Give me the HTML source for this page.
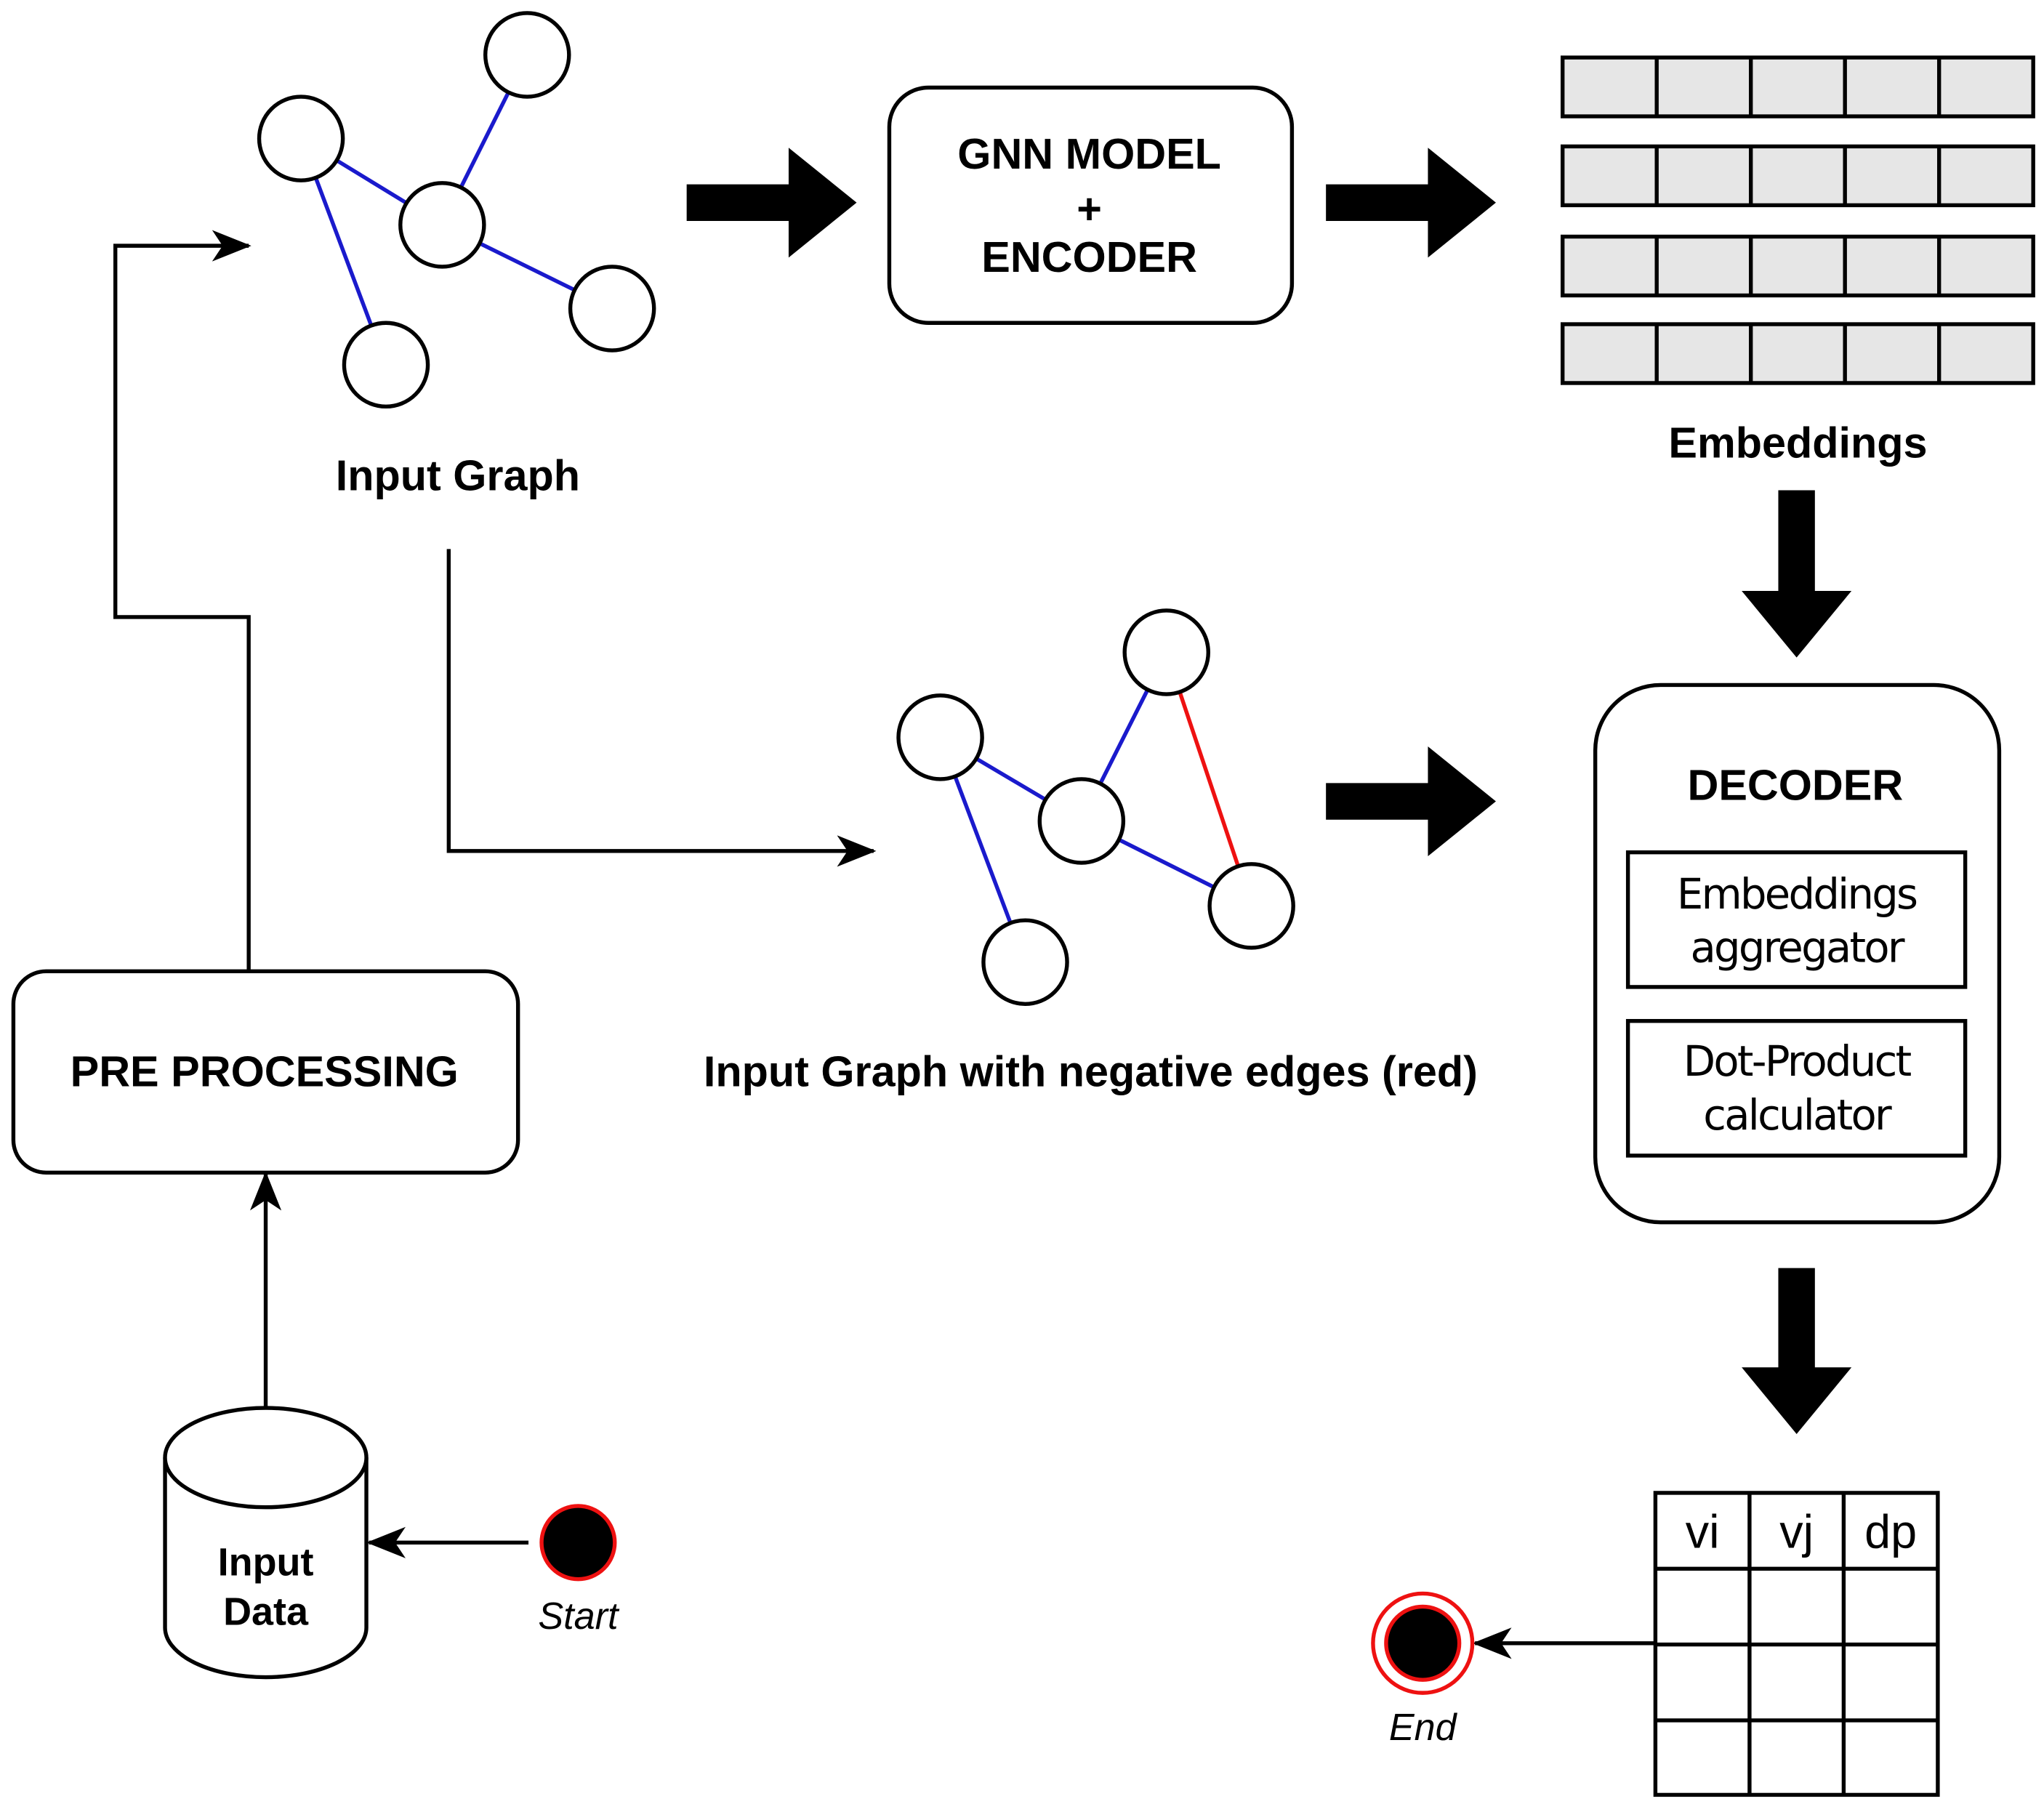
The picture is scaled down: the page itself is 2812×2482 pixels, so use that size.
<!DOCTYPE html>
<html><head><meta charset="utf-8"><style>html,body{margin:0;padding:0;background:#fff}svg{display:block}</style></head>
<body>
<svg width="2812" height="2482" viewBox="0 0 1563 1380" xmlns="http://www.w3.org/2000/svg" font-family="'Liberation Sans', 'DejaVu Sans', sans-serif">
<rect width="1563" height="1380" fill="#fff"/>
<defs>
<marker id="a" markerWidth="30" markerHeight="24" refX="28" refY="12" orient="auto" markerUnits="userSpaceOnUse" viewBox="0 0 30 24"><path d="M0,0 L30,12 L0,24 L8,12 Z" fill="#000"/></marker>
</defs>
<g stroke="#000" stroke-width="3" fill="none">
<g stroke="#1a1acc" stroke-width="3">
<line x1="230" y1="106" x2="338" y2="172"/><line x1="338" y1="172" x2="403" y2="42"/>
<line x1="230" y1="106" x2="295" y2="279"/><line x1="338" y1="172" x2="468" y2="236"/>
</g>
<g fill="#fff">
<circle cx="230" cy="106" r="32"/><circle cx="403" cy="42" r="32"/><circle cx="338" cy="172" r="32"/><circle cx="468" cy="236" r="32"/><circle cx="295" cy="279" r="32"/>
</g>
<g stroke="#1a1acc">
<line x1="719" y1="564" x2="827" y2="628"/><line x1="827" y1="628" x2="892" y2="499"/>
<line x1="719" y1="564" x2="784" y2="736"/><line x1="827" y1="628" x2="957" y2="693"/>
</g>
<line x1="892" y1="499" x2="957" y2="693" stroke="#ee1111"/>
<g fill="#fff">
<circle cx="719" cy="564" r="32"/><circle cx="892" cy="499" r="32"/><circle cx="827" cy="628" r="32"/><circle cx="957" cy="693" r="32"/><circle cx="784" cy="736" r="32"/>
</g>
<rect x="680" y="67" width="308" height="180" rx="30" fill="#fff"/>
<rect x="10" y="743" width="386" height="154" rx="25" fill="#fff"/>
<rect x="1220" y="524" width="309" height="411" rx="50" fill="#fff"/>
<rect x="1245" y="652" width="258" height="103"/>
<rect x="1245" y="781" width="258" height="103"/>
<g fill="#e6e6e6">
<rect x="1195" y="44" width="360" height="45"/><rect x="1195" y="112" width="360" height="45"/><rect x="1195" y="181" width="360" height="45"/><rect x="1195" y="248" width="360" height="45"/>
</g>
<path d="M1267,44V89M1339,44V89M1411,44V89M1483,44V89 M1267,112V157M1339,112V157M1411,112V157M1483,112V157 M1267,181V226M1339,181V226M1411,181V226M1483,181V226 M1267,248V293M1339,248V293M1411,248V293M1483,248V293"/>
<rect x="1266" y="1142" width="216" height="231"/>
<path d="M1338,1142V1373M1410,1142V1373M1266,1200H1482M1266,1258H1482M1266,1316H1482"/>
<path d="M126,1115 V1245 A77,38 0 0 0 280,1245 V1115" fill="#fff"/>
<ellipse cx="203" cy="1115" rx="77" ry="38" fill="#fff"/>
<path d="M343,420 V651 H668" marker-end="url(#a)"/>
<path d="M190,743 V472 H88 V188 H190" marker-end="url(#a)"/>
<path d="M203,1077 V898" marker-end="url(#a)"/>
<path d="M404,1180 H282" marker-end="url(#a)"/>
<path d="M1266,1257 H1128" marker-end="url(#a)"/>
</g>
<g fill="#000">
<path d="M525,141 H603 V113 L655,155 L603,197 V169 H525 Z"/>
<path d="M1014,141 H1092 V113 L1144,155 L1092,197 V169 H1014 Z"/>
<path d="M1014,599 H1092 V571 L1144,613 L1092,655 V627 H1014 Z"/>
<path d="M1360,375 V452 H1332 L1374,503 L1416,452 H1388 V375 Z"/>
<path d="M1360,970 V1046 H1332 L1374,1097 L1416,1046 H1388 V970 Z"/>
</g>
<circle cx="442" cy="1180" r="28" fill="#000" stroke="#ee1111" stroke-width="3"/>
<circle cx="1088" cy="1257" r="38" fill="#fff" stroke="#ee1111" stroke-width="3"/>
<circle cx="1088" cy="1257" r="28" fill="#000" stroke="#ee1111" stroke-width="3"/>
<g font-weight="bold" font-size="33" text-anchor="middle" fill="#000">
<text x="350" y="375">Input Graph</text>
<text x="833" y="129">GNN MODEL</text>
<text x="833" y="171">+</text>
<text x="833" y="208">ENCODER</text>
<text x="1375" y="350">Embeddings</text>
<text x="1373" y="612">DECODER</text>
<text x="202" y="831">PRE PROCESSING</text>
<text x="834" y="831">Input Graph with negative edges (red)</text>
<text x="203" y="1205" font-size="30">Input</text>
<text x="203" y="1243" font-size="30">Data</text>
</g>
<g font-family="'DejaVu Sans', sans-serif" font-size="32" text-anchor="middle" fill="#000" letter-spacing="-1.5">
<text x="1374" y="695">Embeddings</text>
<text x="1374" y="736">aggregator</text>
<text x="1374" y="823">Dot-Product</text>
<text x="1374" y="864">calculator</text>
</g>
<g font-size="36" text-anchor="middle" fill="#000">
<text x="1302" y="1184">vi</text><text x="1374" y="1184">vj</text><text x="1446" y="1184">dp</text>
</g>
<g font-size="29" font-style="italic" text-anchor="middle" fill="#000">
<text x="442" y="1246">Start</text>
<text x="1088" y="1331">End</text>
</g>
</svg>
</body></html>
